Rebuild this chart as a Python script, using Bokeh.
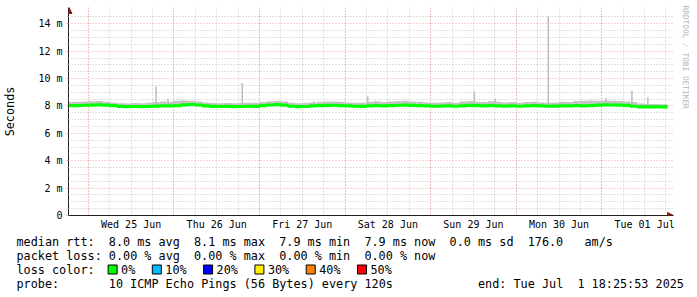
import re
import pandas as pd
from bokeh.plotting import figure
from bokeh.layouts import column
from bokeh.models import (Range1d, FixedTicker, Grid, CustomJSTickFormatter, Title,
                          PolyAnnotation, ColumnDataSource)
from bokeh.core.properties import value
from bokeh.embed import file_html
from bokeh.resources import INLINE

# ---------------- data ----------------
START = "2025-06-24 18:25:53"
END = "2025-07-01 18:25:53"
BUCKET0 = "2025-06-24 18:00"      # 2-hour buckets
BUCKET_HOURS = 2

# median rtt (ms) per 2h bucket
median_ms = (
    [8.02, 8.03, 8.05] +
    [8.06, 8.08, 8.06, 8.02, 7.97, 7.95, 7.96, 7.95, 7.96, 7.99, 8.01, 8.00] +
    [8.03, 8.08, 8.10, 8.07, 8.00, 7.97, 7.96, 7.97, 7.95, 7.96, 7.98, 7.97] +
    [8.02, 8.07, 8.09, 8.06, 7.98, 7.95, 7.96, 8.00, 8.02, 8.04, 8.05, 8.03] +
    [8.00, 7.98, 7.97, 8.00, 8.02, 8.00, 8.03, 8.05, 8.06, 8.04, 8.03, 8.00] +
    [7.98, 7.99, 8.00, 7.98, 8.01, 8.04, 8.02, 8.00, 8.03, 8.01, 7.99, 8.00] +
    [7.98, 8.01, 8.02, 8.00, 7.98, 7.99, 8.01, 8.00, 8.02, 8.01, 8.03, 8.06] +
    [8.08, 8.07, 8.06, 8.04, 7.98, 7.94, 7.93, 7.93, 7.93, 7.93]
)
# smoke (ping spread) upper edge (ms)
smoke_hi_ms = (
    [8.28, 8.30, 8.33] +
    [8.34, 8.36, 8.30, 8.26, 8.20, 8.18, 8.22, 8.20, 8.23, 8.28, 8.32, 8.30] +
    [8.38, 8.40, 8.38, 8.33, 8.26, 8.22, 8.20, 8.22, 8.20, 8.21, 8.24, 8.23] +
    [8.28, 8.34, 8.36, 8.32, 8.23, 8.20, 8.21, 8.26, 8.30, 8.32, 8.33, 8.30] +
    [8.26, 8.23, 8.24, 8.30, 8.34, 8.28, 8.32, 8.36, 8.38, 8.33, 8.30, 8.26] +
    [8.23, 8.26, 8.28, 8.24, 8.32, 8.36, 8.30, 8.28, 8.34, 8.30, 8.26, 8.28] +
    [8.24, 8.28, 8.30, 8.26, 8.24, 8.26, 8.30, 8.28, 8.36, 8.38, 8.40, 8.38] +
    [8.40, 8.38, 8.36, 8.33, 8.28, 8.18, 8.14, 8.14, 8.13, 8.13]
)
# smoke lower edge (ms)
smoke_lo_ms = (
    [7.95, 7.96, 7.97] +
    [7.98, 7.99, 7.97, 7.94, 7.90, 7.88, 7.89, 7.88, 7.89, 7.92, 7.94, 7.93] +
    [7.95, 7.99, 8.01, 7.98, 7.93, 7.90, 7.89, 7.90, 7.88, 7.89, 7.91, 7.90] +
    [7.94, 7.98, 8.00, 7.97, 7.91, 7.88, 7.89, 7.93, 7.95, 7.96, 7.97, 7.95] +
    [7.93, 7.91, 7.90, 7.93, 7.95, 7.93, 7.95, 7.97, 7.98, 7.96, 7.95, 7.93] +
    [7.91, 7.92, 7.93, 7.91, 7.94, 7.96, 7.95, 7.93, 7.95, 7.94, 7.92, 7.93] +
    [7.91, 7.94, 7.95, 7.93, 7.91, 7.92, 7.94, 7.93, 7.95, 7.94, 7.95, 7.98] +
    [8.00, 7.99, 7.98, 7.96, 7.91, 7.88, 7.87, 7.87, 7.87, 7.87]
)
# isolated slow pings in the smoke
spike_times = ["2025-06-25 19:00", "2025-06-25 22:20", "2025-06-26 02:20",
               "2025-06-26 19:10", "2025-06-27 15:15", "2025-06-28 06:20",
               "2025-06-28 08:35", "2025-06-29 12:15", "2025-06-29 18:10",
               "2025-06-30 09:00", "2025-07-01 01:15", "2025-07-01 08:27",
               "2025-07-01 12:55"]
spike_ms = [9.43, 8.50, 8.40, 9.67, 8.35, 8.70, 8.35, 9.07, 8.50, 14.55, 8.58, 9.12, 8.64]

y_ticks = [0, 2, 4, 6, 8, 10, 12, 14]
day_label_times = ["2025-06-25 12:00", "2025-06-26 12:00", "2025-06-27 12:00",
                   "2025-06-28 12:00", "2025-06-29 12:00", "2025-06-30 12:00",
                   "2025-07-01 12:00"]
day_labels = ["Wed 25 Jun", "Thu 26 Jun", "Fri 27 Jun", "Sat 28 Jun",
              "Sun 29 Jun", "Mon 30 Jun", "Tue 01 Jul"]
midnight_times = ["2025-06-25", "2025-06-26", "2025-06-27", "2025-06-28",
                  "2025-06-29", "2025-06-30", "2025-07-01"]

loss_labels = ["0%", "10%", "20%", "30%", "40%", "50%"]
loss_colors = ["#00ff00", "#00bbff", "#0000ff", "#ffee00", "#ff8000", "#ff0000"]

legend_rows = [
    "median rtt:  8.0 ms avg  8.1 ms max  7.9 ms min  7.9 ms now  0.0 ms sd  176.0   am/s",
    "packet loss: 0.00 % avg  0.00 % max  0.00 % min  0.00 % now",
    "loss color:",
    "probe:       10 ICMP Echo Pings (56 Bytes) every 120s            end: Tue Jul  1 18:25:53 2025",
]

# ---------------- layout helpers ----------------
def ms(s):
    return pd.Timestamp(s).value / 1e6

W = 697
H_TOP = 232
H_LEG = 297 - H_TOP
L, R_END, R, T, B = 66, 667, 673, 7, 215
X0 = ms(START)
X1 = X0 + (R - L) / (R_END - L) * (ms(END) - X0)
Y0 = 0.0
Y1 = 14 * (B - T) / (B - 23.3)

def sx(px):
    return X0 + (px - L) / (R - L) * (X1 - X0)

def sy(py):
    return Y0 + (B - py) / (B - T) * (Y1 - Y0)

MONO = "DejaVu Sans Mono"
GRID = "#c4c4c4"
MGRID = "#eea0a0"

p = figure(width=W, height=H_TOP, output_backend="svg", toolbar_location=None,
           x_range=Range1d(X0, X1), y_range=Range1d(Y0, Y1),
           min_border_left=L, min_border_right=W - R, min_border_top=T,
           min_border_bottom=H_TOP - B,
           background_fill_color="white", border_fill_color="white")
p.frame_align = False
p.outline_line_color = None
p.xgrid.visible = False
p.ygrid.visible = False

# grids
six_hours = [ms(t) for t in pd.date_range("2025-06-24 18:00", "2025-07-01 18:00", freq="6h")]
y_minor = [v / 2 for v in range(1, 30) if v % 4 != 0]
p.add_layout(Grid(dimension=0, ticker=FixedTicker(ticks=six_hours),
                  grid_line_color=GRID, grid_line_dash="1 2"))
p.add_layout(Grid(dimension=1, ticker=FixedTicker(ticks=y_minor),
                  grid_line_color=GRID, grid_line_dash="1 2"))
p.add_layout(Grid(dimension=0, ticker=FixedTicker(ticks=[ms(t) for t in midnight_times]),
                  grid_line_color=MGRID, grid_line_dash="1 2"))
p.add_layout(Grid(dimension=1, ticker=FixedTicker(ticks=y_ticks[1:]),
                  grid_line_color=MGRID, grid_line_dash="1 2"))

# axes
ya = p.yaxis[0]
ya.ticker = FixedTicker(ticks=y_ticks, minor_ticks=y_minor)
ya.formatter = CustomJSTickFormatter(code="return tick == 0 ? '0' : tick.toFixed(0) + ' m';")
ya.major_label_text_font = MONO
ya.major_label_text_font_size = "10px"
ya.major_label_text_color = "black"
ya.axis_line_color = "#202020"
ya.major_tick_in = 0
ya.major_tick_out = 2
ya.major_tick_line_color = MGRID
ya.minor_tick_in = 0
ya.minor_tick_out = 2
ya.minor_tick_line_color = "#d8d8d8"
ya.major_label_standoff = 4
ya.axis_label = "Seconds"
ya.axis_label_text_font = MONO
ya.axis_label_text_font_size = "11.8px"
ya.axis_label_text_font_style = "normal"
ya.axis_label_text_color = "black"
ya.axis_label_standoff = 18

label_ms = [ms(t) for t in day_label_times]
xa = p.xaxis[0]
xa.ticker = FixedTicker(ticks=label_ms)
xa.formatter = CustomJSTickFormatter(args=dict(tk=label_ms, labs=day_labels),
                                     code="const i = tk.indexOf(tick); return i < 0 ? '' : labs[i];")
xa.major_label_text_font = MONO
xa.major_label_text_font_size = "10px"
xa.major_label_text_color = "black"
xa.axis_line_color = "#202020"
xa.major_tick_in = 0
xa.major_tick_out = 0
xa.minor_tick_line_color = None
xa.major_label_standoff = 3

p.add_layout(Title(text="RRDTOOL / TOBI OETIKER", align="left", vertical_align="middle",
                   text_font=MONO, text_font_size="7.8px", text_color="#b4b4b4",
                   text_font_style="normal", offset=-2, standoff=13), "right")

# data
t_start = pd.date_range(BUCKET0, periods=len(median_ms), freq=f"{BUCKET_HOURS}h")
t_end = [min(ms(t + pd.Timedelta(hours=BUCKET_HOURS)), ms(END)) for t in t_start]
src = ColumnDataSource(dict(
    left=[ms(t) for t in t_start], right=t_end,
    lo=smoke_lo_ms, hi=smoke_hi_ms))
p.quad(left="left", right="right", bottom="lo", top="hi", source=src,
       fill_color="#c4c4c4", line_color=None)
sp = ColumnDataSource(dict(x=[ms(t) for t in spike_times], y0=[8.0] * len(spike_ms), y1=spike_ms))
p.segment(x0="x", y0="y0", x1="x", y1="y1", source=sp, line_color="#bcbcbc", line_width=1.5)
line_src = ColumnDataSource(dict(x=[ms(t) for t in t_start] + [ms(END)],
                                 y=median_ms + [median_ms[-1]]))
p.step(x="x", y="y", source=line_src, mode="after", line_color="#00ff00", line_width=3.2)

# axis arrows
ARROW = "#802020"
p.add_layout(PolyAnnotation(xs=[sx(63.5), sx(69.5), sx(66.5)], ys=[sy(13), sy(13), sy(7)],
                            fill_color=ARROW, fill_alpha=1, line_color=ARROW, line_alpha=1))
p.add_layout(PolyAnnotation(xs=[sx(667), sx(667), sx(673)], ys=[sy(212), sy(218), sy(215)],
                            fill_color=ARROW, fill_alpha=1, line_color=ARROW, line_alpha=1))

# ---------------- legend block ----------------
leg = figure(width=W, height=H_LEG, output_backend="svg", toolbar_location=None,
             x_range=Range1d(0, W), y_range=Range1d(297, H_TOP),
             x_axis_location=None, y_axis_location=None, min_border=0,
             background_fill_color="white", border_fill_color="white")
leg.frame_align = False
leg.outline_line_color = None
leg.xgrid.visible = False
leg.ygrid.visible = False

CH = 7.1
LX = 16
row_y = [241, 255, 269, 283]
tx, ty, tt = [], [], []
for line, yy in zip(legend_rows, row_y):
    for m in re.finditer(r"\S+(?: \S+)*", line):
        tx.append(LX + m.start() * CH)
        ty.append(yy)
        tt.append(m.group())

bx = 107.6
box_l, box_r = [], []
for lab in loss_labels:
    box_l.append(bx)
    box_r.append(bx + 9)
    tx.append(bx + 13)
    ty.append(row_y[2])
    tt.append(lab)
    bx += 13 + len(lab) * CH + 17

leg.quad(left=box_l, right=box_r, bottom=[row_y[2] + 4.5] * 6, top=[row_y[2] - 4.5] * 6,
         fill_color=loss_colors, line_color="black", line_width=1)
leg.text(x=tx, y=ty, text=tt, text_font=value(MONO), text_font_size="11.8px",
         text_color="black", text_baseline="middle", text_align="left")

layout = column(p, leg, spacing=0)
open("out.html", "w").write(file_html(layout, INLINE))
